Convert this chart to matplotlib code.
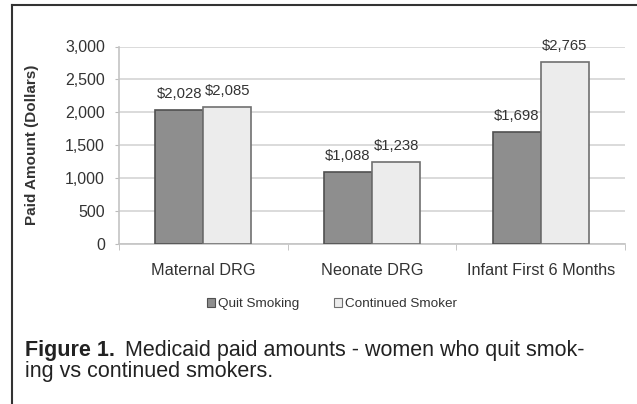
import matplotlib
matplotlib.use("Agg")
import matplotlib.pyplot as plt
import numpy as np
from matplotlib.patches import Patch
from matplotlib.lines import Line2D

plt.rcParams['font.family'] = ['Liberation Sans', 'DejaVu Sans']

categories = ["Maternal DRG", "Neonate DRG", "Infant First 6 Months"]
quit_vals = [2028, 1088, 1698]
cont_vals = [2085, 1238, 2765]
series_names = ["Quit Smoking", "Continued Smoker"]
yticks = [0, 500, 1000, 1500, 2000, 2500, 3000]

W, H = 637, 404
fig = plt.figure(figsize=(W/100, H/100), dpi=100)
ax = fig.add_axes([119/W, 1-244/H, (625-119)/W, (244-46.5)/H])

x = np.arange(len(categories))
bw = 0.285
q_color, q_edge = '#8e8e8e', '#505050'
c_color, c_edge = '#ececec', '#707070'
b1 = ax.bar(x - bw/2, quit_vals, bw, color=q_color, edgecolor=q_edge, linewidth=1.2, zorder=3)
b2 = ax.bar(x + bw/2, cont_vals, bw, color=c_color, edgecolor=c_edge, linewidth=1.2, zorder=3)

for rects, vals in ((b1, quit_vals), (b2, cont_vals)):
    for r, v in zip(rects, vals):
        ax.annotate("${:,}".format(v), (r.get_x() + r.get_width()/2, v),
                    xytext=(0, 6.5), textcoords='offset points',
                    ha='center', va='bottom', fontsize=10.7, color='#333333', zorder=4)

ax.set_xlim(-0.5, len(categories) - 0.5)
ax.set_ylim(0, 3000)
ax.set_yticks(yticks)
ax.set_yticklabels(["{:,}".format(t) for t in yticks], fontsize=11.5, color='#333333')
ax.yaxis.grid(True, color='#d4d4d4', linewidth=1.2, zorder=0)
ax.set_axisbelow(True)

ax.set_xticks(x)
ax.set_xticklabels(categories, fontsize=11.7, color='#333333')
ax.tick_params(axis='x', length=0, pad=14)
ax.tick_params(axis='y', length=3, color='#bbbbbb', pad=7)
ax.set_xticks(np.arange(len(categories) + 1) - 0.5, minor=True)
ax.tick_params(axis='x', which='minor', length=4, color='#bbbbbb', direction='out')

for s in ['top', 'right']:
    ax.spines[s].set_visible(False)
for s in ['left', 'bottom']:
    ax.spines[s].set_color('#c4c4c4')
    ax.spines[s].set_linewidth(1.2)

fig.text(32/W, 1-145/H, "Paid Amount (Dollars)", rotation=90, ha='center', va='center',
         fontsize=11, fontweight='bold', color='#333333')

handles = [Patch(facecolor=q_color, edgecolor=q_edge, linewidth=0.8),
           Patch(facecolor=c_color, edgecolor=c_edge, linewidth=0.8)]
fig.legend(handles, series_names, loc='center', bbox_to_anchor=(332/W, 1-304/H),
           ncol=2, frameon=False, fontsize=9.7, handlelength=0.6, handleheight=0.6,
           handletextpad=0.2, columnspacing=2.6, labelcolor='#333333')

# frame lines
fig.add_artist(Line2D([11.5/W, 11.5/W], [0, 1-5/H], color='#333333', lw=1.5, transform=fig.transFigure))
fig.add_artist(Line2D([11.5/W, 1], [1-5/H, 1-5/H], color='#333333', lw=1.5, transform=fig.transFigure))

# caption
cap_fs = 15.5
t1 = fig.text(25/W, 1-356/H, "Figure 1.", fontsize=cap_fs, fontweight='bold', va='baseline', ha='left', color='#222222')
fig.canvas.draw()
bb = t1.get_window_extent(fig.canvas.get_renderer())
fig.text((bb.x1 + 10)/W, 1-356/H, "Medicaid paid amounts - women who quit smok-", fontsize=cap_fs,
         va='baseline', ha='left', color='#222222')
fig.text(25/W, 1-377/H, "ing vs continued smokers.", fontsize=cap_fs, va='baseline', ha='left', color='#222222')

fig.savefig("out.png", dpi=100)
